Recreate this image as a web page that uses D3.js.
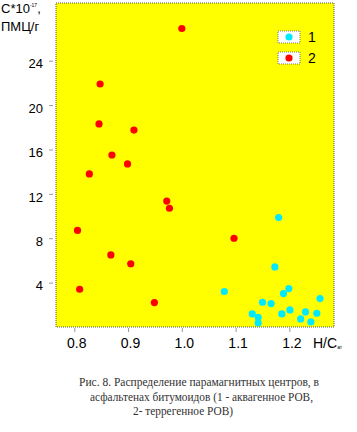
<!DOCTYPE html>
<html><head><meta charset="utf-8">
<script src="https://cdn.jsdelivr.net/npm/d3@7"></script>
<style>body{margin:0;background:#fff}svg{display:block}</style>
</head><body>
<svg id="c" width="357" height="432"></svg>
<script>
const xTicks = [0.8, 0.9, 1.0, 1.1, 1.2];
const yTicks = [4, 8, 12, 16, 20, 24];
const seriesNames = ["1", "2"];
const cyanX = [1.180, 1.173, 1.199, 1.189, 1.257, 1.150, 1.166, 1.201, 1.230, 1.251, 1.186, 1.131, 1.142, 1.221, 1.240, 1.142, 1.079];
const cyanY = [9.86, 5.41, 3.46, 3.01, 2.56, 2.23, 2.11, 1.54, 1.36, 1.24, 1.18, 1.18, 0.88, 0.73, 0.46, 0.37, 3.2];
const redX = [1.000, 0.848, 0.846, 0.911, 0.870, 0.899, 0.828, 0.972, 0.977, 1.097, 0.806, 0.868, 0.905, 0.810, 0.949];
const redY = [26.9, 21.9, 18.3, 17.75, 15.5, 14.7, 13.8, 11.35, 10.7, 8.0, 8.7, 6.5, 5.7, 3.4, 2.2];
const caption = ["Рис. 8. Распределение парамагнитных центров, в",
                 "асфальтенах битумоидов (1 - аквагенное РОВ,",
                 "2- террегенное РОВ)"];

const svg = d3.select("#c");
const L = 56, R = 334, T = 3, B = 327;
const x = d3.scaleLinear().domain([0.766, 1.283]).range([L, R]);
const y = d3.scaleLinear().domain([0, 29.2]).range([B, T]);
const colors = ["#00eaff", "#ff0000"];

svg.append("rect").attr("x", L).attr("y", T).attr("width", R - L).attr("height", B - T)
  .attr("fill", "#ffff00").attr("stroke", "#555").attr("stroke-width", 1).attr("stroke-dasharray", "1,1");

const ax = svg.append("g").attr("transform", `translate(0,${B + 1})`)
  .call(d3.axisBottom(x).tickValues(xTicks).tickSize(4).tickPadding(6).tickFormat(d3.format(".1f")));
const ay = svg.append("g").attr("transform", `translate(${L - 3},0)`)
  .call(d3.axisLeft(y).tickValues(yTicks).tickSize(4).tickPadding(6).tickFormat(d3.format("d")));
[ax, ay].forEach(g => {
  g.select(".domain").remove();
  g.selectAll(".tick line").attr("stroke", "#999");
  g.selectAll(".tick text").attr("font-family", "Arial, 'Liberation Sans', sans-serif")
    .attr("font-size", 13).attr("fill", "#000");
});
ax.selectAll(".tick text").attr("dx", 2).attr("font-size", 14);
ay.selectAll(".tick text").attr("dy", "0.55em");

function dots(xs, ys, col) {
  svg.append("g").selectAll("circle").data(xs.map((v, i) => [v, ys[i]])).join("circle")
    .attr("cx", d => x(d[0])).attr("cy", d => y(d[1])).attr("r", 3.6).attr("fill", col);
}
dots(cyanX, cyanY, colors[0]);
dots(redX, redY, colors[1]);

// legend
const lg = svg.append("g").attr("font-family", "Arial, 'Liberation Sans', sans-serif");
seriesNames.forEach((n, i) => {
  const yy = 31 + i * 21;
  lg.append("rect").attr("x", 278).attr("y", yy).attr("width", 22).attr("height", 12)
    .attr("fill", "#fff").attr("stroke", "#777").attr("stroke-dasharray", "1,1");
  lg.append("circle").attr("cx", 289).attr("cy", yy + 6).attr("r", 3.6).attr("fill", colors[i]);
  lg.append("text").attr("x", 308).attr("y", yy + 11).attr("font-size", 14).text(n);
});

// y axis label
const yl = svg.append("text").attr("font-family", "Arial, 'Liberation Sans', sans-serif").attr("font-size", 13).attr("fill", "#000");
yl.append("tspan").attr("x", 1).attr("y", 13).text("С*10");
yl.append("tspan").attr("font-size", 5).attr("dy", -6).text("-17");
yl.append("tspan").attr("dy", 6).text(",");
svg.append("text").attr("font-family", "Arial, 'Liberation Sans', sans-serif").attr("font-size", 13)
  .attr("x", 1).attr("y", 31).text("ПМЦ/г");

// x axis label
const xl = svg.append("text").attr("font-family", "Arial, 'Liberation Sans', sans-serif").attr("font-size", 14)
  .attr("x", 313).attr("y", 348);
xl.append("tspan").text("H/C");
xl.append("tspan").attr("font-size", 5).attr("dy", 1).text("ат");

// caption
const cx = [79, 90, 133], cw = [240, 223, 100], cy = [386, 401, 415];
caption.forEach((t, i) => {
  svg.append("text").attr("x", cx[i]).attr("y", cy[i]).attr("textLength", cw[i]).attr("lengthAdjust", "spacingAndGlyphs")
    .attr("font-family", "'Liberation Serif', 'Times New Roman', serif").attr("font-size", 12.5)
    .attr("fill", "#333").text(t);
});
</script>
</body></html>
